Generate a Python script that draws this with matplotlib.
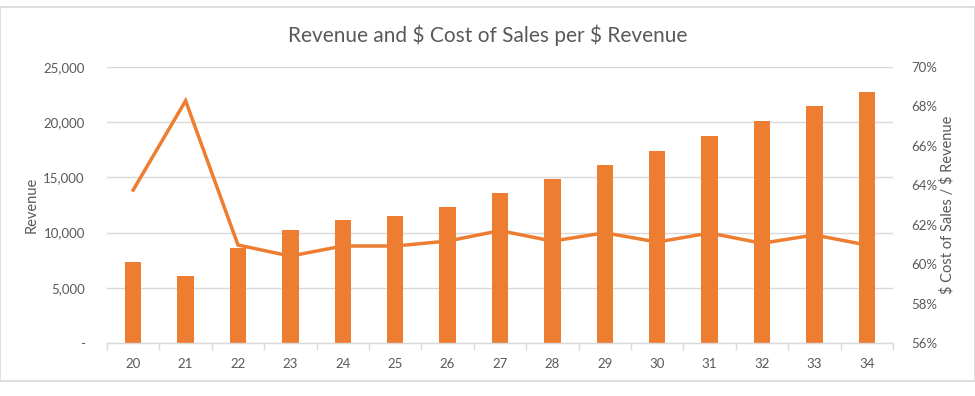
import matplotlib
matplotlib.use("Agg")
import matplotlib.pyplot as plt
from matplotlib.patches import Rectangle
from matplotlib.ticker import FuncFormatter, FixedLocator, NullFormatter

plt.rcParams['font.family'] = ['Lato', 'DejaVu Sans']
plt.rcParams['text.parse_math'] = False

# dados
periodos = ['20', '21', '22', '23', '24', '25', '26', '27', '28', '29', '30', '31', '32', '33', '34']
receita = [7350, 6100, 8630, 10200, 11170, 11530, 12350, 13560, 14830, 16100, 17420, 18750, 20080, 21500, 22760]
custo_por_receita = [63.76, 68.29, 60.97, 60.41, 60.92, 60.92, 61.17, 61.70, 61.17, 61.59, 61.12, 61.58, 61.06, 61.48, 60.97]

laranja = '#ed7d31'
cinza_texto = '#595959'
cinza_linha = '#d9d9d9'

fig = plt.figure(figsize=(9.75, 3.96), dpi=100)
fig.patches.append(Rectangle((0.0, 1 - 381 / 396), 1.0, (381 - 7) / 396, transform=fig.transFigure,
                             fill=False, edgecolor=cinza_linha, linewidth=1.2))

ax = fig.add_axes([107 / 975, 1 - 343 / 396, (893 - 107) / 975, (343 - 67) / 396])
x = list(range(len(periodos)))
ax.bar(x, receita, width=0.31, color=laranja, zorder=2)
ax.set_xlim(-0.5, len(periodos) - 0.5)
ax.set_ylim(0, 25000)
ax.set_yticks([0, 5000, 10000, 15000, 20000, 25000])
ax.yaxis.set_major_formatter(FuncFormatter(lambda v, p: '-' if v == 0 else f'{int(v):,}'))
ax.grid(axis='y', color=cinza_linha, linewidth=1, zorder=0)
ax.set_axisbelow(True)
for lado in ['top', 'right', 'left']:
    ax.spines[lado].set_visible(False)
ax.spines['bottom'].set_color(cinza_linha)
ax.spines['bottom'].set_linewidth(1)
ax.tick_params(axis='y', length=0, colors=cinza_texto, labelsize=9.5, pad=16)
ax.set_xticks(x)
ax.set_xticklabels(periodos)
ax.tick_params(axis='x', which='major', length=0, colors=cinza_texto, labelsize=9.5, pad=11)
ax.xaxis.set_minor_locator(FixedLocator([i - 0.5 for i in range(len(periodos) + 1)]))
ax.xaxis.set_minor_formatter(NullFormatter())
ax.tick_params(axis='x', which='minor', length=5, color=cinza_linha, width=1)
ax.set_ylabel('Revenue', color=cinza_texto, fontsize=10.5, labelpad=3)

ax2 = ax.twinx()
ax2.plot(x, custo_por_receita, color=laranja, linewidth=2.5, solid_joinstyle='miter', zorder=3)
ax2.set_ylim(56, 70)
ax2.set_yticks(range(56, 71, 2))
ax2.yaxis.set_major_formatter(FuncFormatter(lambda v, p: f'{int(v)}%'))
for lado in ['top', 'right', 'left', 'bottom']:
    ax2.spines[lado].set_visible(False)
ax2.tick_params(axis='y', length=0, colors=cinza_texto, labelsize=9.5, pad=13)
ax2.set_ylabel('$ Cost of Sales / $ Revenue', color=cinza_texto, fontsize=10.5, labelpad=2)

fig.text(0.5, 1 - 35 / 396, 'Revenue and $ Cost of Sales per $ Revenue', ha='center', va='center',
         fontsize=15, color=cinza_texto)

fig.savefig('out.png', dpi=100)
